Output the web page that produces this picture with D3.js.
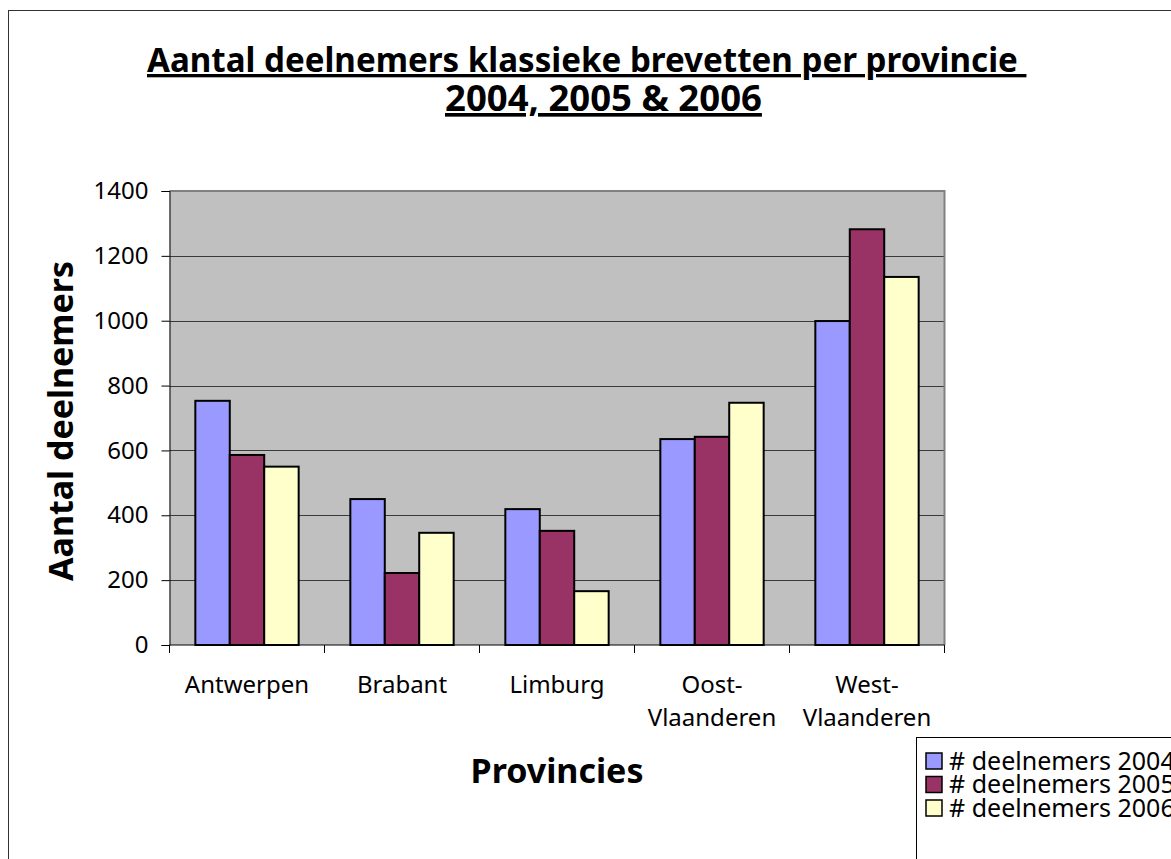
<!DOCTYPE html>
<html>
<head>
<meta charset="utf-8">
<script src="https://cdn.jsdelivr.net/npm/d3@7"></script>
<style>
    body { margin: 0; background: #fff; }
    text { font-family: "Noto Sans", sans-serif; fill: #000; }
    .title { font-weight: bold; text-decoration: underline; white-space: pre; }
    .axis-title { font-weight: bold; }
</style>
</head>
<body>
<div id="vis"></div>
<script>
// Chart values
var provinces = ['Antwerpen', 'Brabant', 'Limburg', 'Oost-Vlaanderen', 'West-Vlaanderen'];
var seriesNames = ['# deelnemers 2004', '# deelnemers 2005', '# deelnemers 2006'];
var values2004 = [753, 450, 419, 635, 999];
var values2005 = [586, 222, 352, 642, 1282];
var values2006 = [550, 346, 166, 747, 1135];
var seriesColors = ['#9999FF', '#993366', '#FFFFCC'];
var yTicks = [0, 200, 400, 600, 800, 1000, 1200, 1400];

(function() {
    var width = 1171,
        height = 859;

    // plot area (Excel style grey box)
    var plot = { left: 169.5, top: 191, right: 944.5, bottom: 645 };

    var svg = d3.select('#vis').append('svg')
        .attr('width', width)
        .attr('height', height);

    // outer chart border, runs off the page at right / bottom
    svg.append('rect')
        .attr('x', 8.5).attr('y', 10.5)
        .attr('width', 1300).attr('height', 1000)
        .attr('fill', 'none')
        .attr('stroke', '#333');

    // scales
    var xScale = d3.scaleBand()
        .domain(provinces)
        .range([plot.left, plot.right]);

    var bw = xScale.bandwidth();
    var gap = bw * 0.75 / 4.5;   // excel gap width 150%
    var x1 = d3.scaleBand()
        .domain(seriesNames)
        .range([gap, bw - gap]);

    var yScale = d3.scaleLinear()
        .domain([0, 1400])
        .range([plot.bottom, plot.top]);

    // background
    svg.append('rect')
        .attr('x', plot.left).attr('y', plot.top)
        .attr('width', plot.right - plot.left)
        .attr('height', plot.bottom - plot.top)
        .attr('fill', '#C0C0C0');

    // gridlines
    svg.append('g').selectAll('line')
        .data(yTicks.filter(function(d) { return d > 0 && d < 1400; }))
        .enter().append('line')
        .attr('x1', plot.left).attr('x2', plot.right)
        .attr('y1', function(d) { return Math.round(yScale(d)) + 0.5; })
        .attr('y2', function(d) { return Math.round(yScale(d)) + 0.5; })
        .attr('stroke', '#3a3a3a')
        .attr('stroke-width', 1);

    // top and right border of plot area
    svg.append('path')
        .attr('d', 'M' + plot.left + ',' + plot.top + 'H' + plot.right + 'V' + plot.bottom)
        .attr('fill', 'none')
        .attr('stroke', '#808080')
        .attr('stroke-width', 2);

    // bars
    var table = provinces.map(function(p, i) {
        return { province: p, values: [values2004[i], values2005[i], values2006[i]] };
    });

    var groups = svg.append('g').selectAll('g')
        .data(table)
        .enter().append('g')
        .attr('transform', function(d) { return 'translate(' + xScale(d.province) + ',0)'; });

    groups.selectAll('rect')
        .data(function(d) {
            return d.values.map(function(v, j) { return { name: seriesNames[j], value: v, color: seriesColors[j] }; });
        })
        .enter().append('rect')
        .attr('x', function(d) { return x1(d.name); })
        .attr('width', x1.bandwidth())
        .attr('y', function(d) { return yScale(d.value); })
        .attr('height', function(d) { return plot.bottom - yScale(d.value); })
        .attr('fill', function(d) { return d.color; })
        .attr('stroke', '#000')
        .attr('stroke-width', 2);

    // y axis
    var yAxis = d3.axisLeft(yScale)
        .tickValues(yTicks)
        .tickSize(8)
        .tickPadding(13)
        .tickFormat(d3.format('d'));

    var yAxisG = svg.append('g')
        .attr('transform', 'translate(' + plot.left + ',0)')
        .call(yAxis);
    yAxisG.selectAll('text').style('font-size', '24px').style('font-family', '"Noto Sans", sans-serif');
    yAxisG.selectAll('line, path').attr('stroke', '#000');

    // x axis: ticks between categories
    var xAxisG = svg.append('g');
    xAxisG.append('line')
        .attr('x1', plot.left).attr('x2', plot.right)
        .attr('y1', plot.bottom).attr('y2', plot.bottom)
        .attr('stroke', '#000');
    xAxisG.selectAll('.tick')
        .data(provinces.concat(['end']))
        .enter().append('line')
        .attr('x1', function(d) { return d == 'end' ? plot.right : xScale(d); })
        .attr('x2', function(d) { return d == 'end' ? plot.right : xScale(d); })
        .attr('y1', plot.bottom).attr('y2', plot.bottom + 8)
        .attr('stroke', '#000');

    // category labels, split after the hyphen
    var catLabels = xAxisG.selectAll('.cat')
        .data(provinces)
        .enter().append('text')
        .attr('class', 'cat')
        .attr('text-anchor', 'middle')
        .style('font-size', '24px');
    catLabels.each(function(d) {
        var parts = d.indexOf('-') > 0 ? [d.split('-')[0] + '-', d.split('-')[1]] : [d];
        var t = d3.select(this);
        parts.forEach(function(p, k) {
            t.append('tspan')
                .attr('x', xScale(d) + bw / 2)
                .attr('y', 693 + k * 33)
                .text(p);
        });
    });

    // fit a text element to a given width
    var fitText = function(sel, target) {
        var len = sel.node().getComputedTextLength();
        var fs = parseFloat(sel.style('font-size'));
        sel.style('font-size', (fs * target / len) + 'px');
    };

    // title
    var t1 = svg.append('text')
        .attr('class', 'title')
        .attr('x', 147).attr('y', 72)
        .style('font-size', '30px')
        .text('Aantal deelnemers klassieke brevetten per provincie ');
    fitText(t1, 880);
    var t2 = svg.append('text')
        .attr('class', 'title')
        .attr('x', 445).attr('y', 111)
        .style('font-size', '30px')
        .text('2004, 2005 & 2006');
    fitText(t2, 317);

    // axis titles
    var yTitle = svg.append('text')
        .attr('class', 'axis-title')
        .attr('text-anchor', 'middle')
        .attr('transform', 'translate(73,421) rotate(-90)')
        .style('font-size', '30px')
        .text('Aantal deelnemers');
    fitText(yTitle, 320);

    var xTitle = svg.append('text')
        .attr('class', 'axis-title')
        .attr('text-anchor', 'middle')
        .attr('x', (plot.left + plot.right) / 2)
        .attr('y', 783)
        .style('font-size', '30px')
        .text('Provincies');
    fitText(xTitle, 173);

    // legend
    var legend = svg.append('g');
    legend.append('rect')
        .attr('x', 916.5).attr('y', 737.5)
        .attr('width', 400).attr('height', 200)
        .attr('fill', '#fff')
        .attr('stroke', '#000');
    var items = legend.selectAll('.item')
        .data(seriesNames)
        .enter().append('g')
        .attr('transform', function(d, i) { return 'translate(0,' + (761 + i * 23.5) + ')'; });
    items.append('rect')
        .attr('x', 926).attr('y', -8)
        .attr('width', 16).attr('height', 16)
        .attr('fill', function(d, i) { return seriesColors[i]; })
        .attr('stroke', '#000')
        .attr('stroke-width', 1.5);
    items.append('text')
        .attr('x', 949)
        .attr('dy', '0.35em')
        .style('font-size', '25px')
        .text(function(d) { return d; });
})();
</script>
</body>
</html>
